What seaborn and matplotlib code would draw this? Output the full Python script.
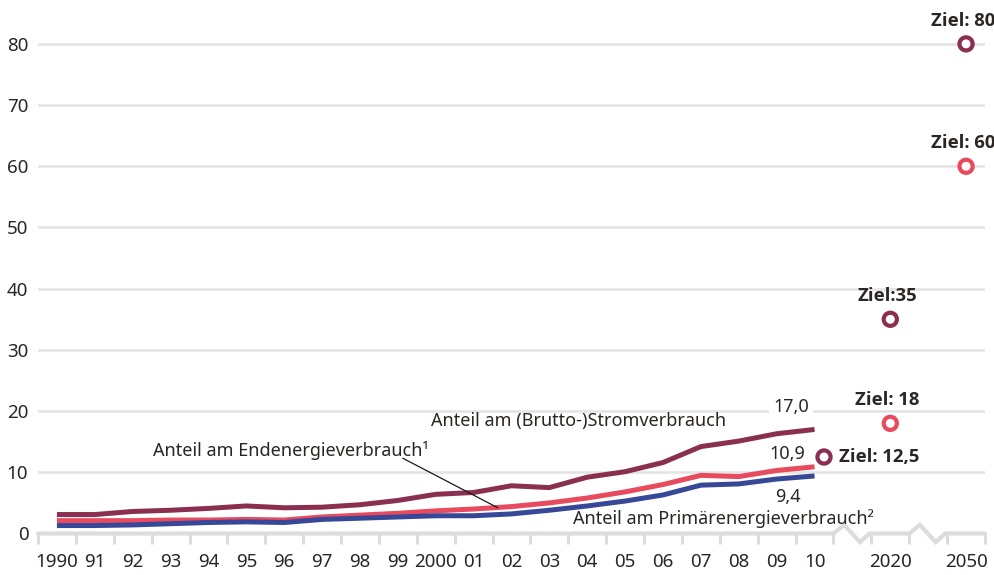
import matplotlib
matplotlib.use("Agg")
import matplotlib.pyplot as plt
import numpy as np
import pandas as pd
import seaborn as sns

# ---------------- data ----------------
years = list(range(1990, 2011))
year_labels = ["1990", "91", "92", "93", "94", "95", "96", "97", "98", "99",
               "2000", "01", "02", "03", "04", "05", "06", "07", "08", "09", "10"]
strom = [3.1, 3.1, 3.6, 3.8, 4.1, 4.5, 4.2, 4.3, 4.7, 5.4, 6.4, 6.7, 7.8, 7.5,
         9.2, 10.1, 11.6, 14.2, 15.1, 16.3, 17.0]
endenergie = [2.1, 2.1, 2.1, 2.2, 2.2, 2.3, 2.2, 2.7, 3.0, 3.3, 3.7, 4.0, 4.4,
              5.0, 5.8, 6.8, 8.0, 9.5, 9.3, 10.3, 10.9]
primaer = [1.3, 1.3, 1.4, 1.6, 1.8, 1.9, 1.8, 2.3, 2.5, 2.7, 2.9, 2.9, 3.2, 3.8,
           4.5, 5.3, 6.3, 7.9, 8.1, 8.9, 9.4]
series_names = ["Endenergie", "Primärenergie", "Strom"]

target_years = ["2010", "2020", "2020", "2050", "2050"]
target_values = [12.5, 35, 18, 80, 60]
target_series = ["Strom", "Strom", "Endenergie", "Strom", "Endenergie"]
target_labels = ["Ziel: 12,5", "Ziel:35", "Ziel: 18", "Ziel: 80", "Ziel: 60"]
extra_year_labels = ["2020", "2050"]

# ---------------- style ----------------
colors = {"Strom": "#8b2f50", "Endenergie": "#e84a5e", "Primärenergie": "#364897"}
txt = "#2b2624"
grid_c = "#e4e4e4"
base_c = "#dcdcdc"

sns.set_theme(style="white")
plt.rcParams["font.family"] = ["Noto Sans", "DejaVu Sans"]
bold_family = ["Open Sans", "DejaVu Sans"]

# positions on the category axis
pos_main = list(range(len(years)))
cat_pos = {"2010": 20.25, "2020": 22.0, "2050": 24.0}

df = pd.DataFrame({
    "pos": pos_main * 3,
    "value": primaer + endenergie + strom,
    "series": ["Primärenergie"] * len(years) + ["Endenergie"] * len(years) + ["Strom"] * len(years),
})
tdf = pd.DataFrame({
    "pos": [cat_pos[y] for y in target_years],
    "value": target_values,
    "series": target_series,
    "label": target_labels,
})

fig = plt.figure(figsize=(9.95, 5.75), dpi=100)
ax = fig.add_axes([38 / 995, 41.5 / 575, 947 / 995, 514.1 / 575])
ax.set_xlim(-0.5, 24.5)
ax.set_ylim(0, 84)

# grid lines
for v in range(10, 81, 10):
    ax.axhline(v, color=grid_c, lw=1.9, zorder=0)

# baseline with breaks
bx = [-0.5, 20.5, 20.78, 21.2, 21.45, 22.5, 22.78, 23.2, 23.45, 24.5]
by = [0, 0, 1.4, -1.4, 0, 0, 1.4, -1.4, 0, 0]
ax.plot(bx, by, color=base_c, lw=3.0, clip_on=False, zorder=1,
        solid_joinstyle="miter")

# lines
sns.lineplot(data=df, x="pos", y="value", hue="series", hue_order=series_names,
             palette=colors, linewidth=3.6, legend=False, ax=ax, zorder=3)
for ln in ax.lines[-3:]:
    ln.set_solid_capstyle("butt")

# target markers (rings)
sns.scatterplot(data=tdf, x="pos", y="value", hue="series", palette=colors,
                s=90, legend=False, ax=ax, zorder=5, clip_on=False)
coll = ax.collections[-1]
fcs = coll.get_facecolors()
coll.set_edgecolors(fcs)
coll.set_facecolors("white")
coll.set_linewidth(3.0)

# target labels
for _, r in tdf.iterrows():
    if r["label"] == "Ziel: 12,5":
        ax.annotate(r["label"], (r["pos"], r["value"]), xytext=(11, 0),
                    textcoords="offset points", ha="left", va="center",
                    fontsize=13.3, fontweight="bold", color=txt, family=bold_family)
    else:
        ax.annotate(r["label"], (r["pos"], r["value"]), xytext=(-2, 16.5),
                    textcoords="offset points", ha="center", va="center",
                    fontsize=13.3, fontweight="bold", color=txt, family=bold_family)

# series annotations
fs = 13
ax.text(9.87, 18.4, "Anteil am (Brutto-)Stromverbrauch", ha="left", va="center",
        fontsize=fs, color=txt)
ax.text(2.54, 13.6, "Anteil am Endenergieverbrauch¹", ha="left", va="center",
        fontsize=fs, color=txt)
ax.annotate("", xy=(11.64, 4.2), xytext=(9.13, 12.3),
            arrowprops=dict(arrowstyle="-", lw=0.9, color="#1a1a1a",
                            shrinkA=0, shrinkB=0), zorder=4)
ax.text(13.62, 2.4, "Anteil am Primärenergieverbrauch²", ha="left", va="center",
        fontsize=fs, color=txt)

last = len(years) - 1
ax.text(19.39, strom[last] + 3.6, "17,0", ha="center", va="center", fontsize=fs,
        color=txt, bbox=dict(facecolor="white", edgecolor="none", pad=3), zorder=2)
ax.text(19.29, endenergie[last] + 2.1, "10,9", ha="center", va="center",
        fontsize=fs, color=txt)
ax.text(19.29, primaer[last] - 3.4, "9,4", ha="center", va="center",
        fontsize=fs, color=txt)

# ticks
major_pos = pos_main + [cat_pos["2020"], cat_pos["2050"]]
ax.set_xticks(major_pos)
ax.set_xticklabels(year_labels + extra_year_labels)
ax.set_xticks(np.arange(-0.5, 24.6, 1.0), minor=True)
ax.tick_params(axis="x", which="major", length=0, pad=14, labelsize=13.5,
               labelcolor=txt)
ax.tick_params(axis="x", which="minor", length=7, width=2.2, color=base_c,
               direction="out", bottom=True)
ax.set_yticks(range(0, 81, 10))
ax.tick_params(axis="y", which="major", length=0, pad=7, labelsize=13.5,
               labelcolor=txt)
ax.set_xlabel("")
ax.set_ylabel("")
for s in ax.spines.values():
    s.set_visible(False)

fig.savefig("out.png", dpi=100)
